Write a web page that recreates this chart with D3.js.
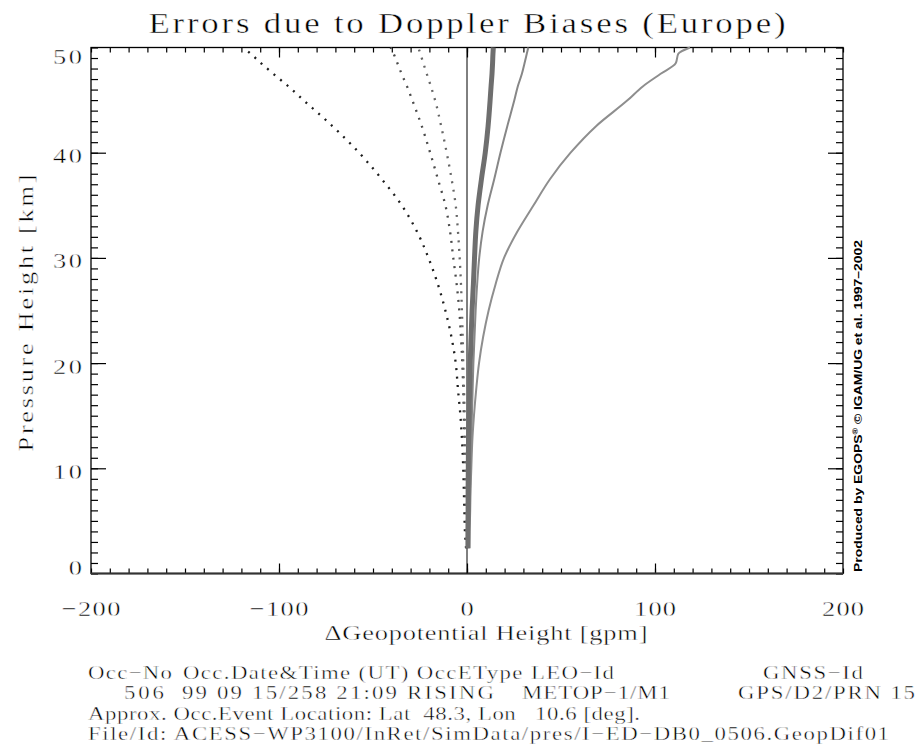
<!DOCTYPE html>
<html>
<head>
<meta charset="utf-8">
<script src="https://cdn.jsdelivr.net/npm/d3@7"></script>
<style>
body{margin:0;background:#fff}
text{font-family:"Liberation Serif",serif;fill:#000}
</style>
</head>
<body>
<script>
var width=920,
	height=756;

// heights in km, shared by every profile
var heights=[2.4,4,6,8,10,12.5,15,17.5,20,22.5,25,27.5,30,32.5,35,37.5,40,42.5,45,46.3,47.5,48.5,49.4,50]

// geopotential height differences [gpm]
var dotsBlack=[-0.5,-1.1,-1.4,-1.7,-2.0,-2.6,-3.5,-4.8,-6.0,-8.3,-11.5,-15.5,-20.5,-26.6,-34.7,-45.4,-57.4,-71.4,-87.0,-95.0,-103.0,-109.5,-115.0,-119.0]
var dotsDark=[-0.2,-0.4,-0.6,-0.8,-1.1,-1.4,-1.7,-2.0,-2.5,-3.2,-4.1,-5.5,-7.3,-9.0,-11.5,-15.5,-19.6,-24.0,-29.1,-31.9,-34.8,-37.0,-39.0,-40.6]
var dotsGrey=[0,-0.1,-0.2,-0.35,-0.5,-0.8,-1.2,-1.6,-2.0,-2.3,-2.7,-3.2,-3.9,-4.8,-6.0,-8.2,-10.8,-13.7,-17.0,-19.2,-21.4,-23.2,-24.8,-25.9]
var meanBias=[0.5,0.5,0.6,0.6,0.7,0.8,1.1,1.4,1.7,2.2,2.7,3.4,4.0,4.7,5.9,7.7,9.7,11.2,12.3,12.8,13.3,13.6,13.8,14.0]
var posSmall=[0.7,1.0,1.4,1.7,2.0,2.3,2.6,3.0,3.4,4.0,4.6,5.4,6.5,8.3,11.0,14.5,17.8,21.4,25.2,27.0,29.2,30.6,31.8,32.6]
var posLarge=[1.2,1.4,1.7,1.9,2.3,2.8,3.7,4.9,6.4,8.6,11.5,15.2,19.7,26.8,35.4,44.2,55.1,68.5,85.5,93.5,103.0,111.0,112.4,118.6]

var xTicks=[-200,-100,0,100,200],
	yTicks=[0,10,20,30,40,50]

var title="Errors due to Doppler Biases (Europe)",
	xTitle="\u0394Geopotential Height [gpm]",
	yTitle="Pressure Height [km]",
	credit="Produced by EGOPS",
	creditRest=" \u00a9 IGAM/UG et al. 1997\u20132002"

var footer1=["Occ\u2212No","Occ.Date&Time (UT) OccEType LEO\u2212Id","GNSS\u2212Id"],
	footer2=["506","99 09 15/258 21:09 RISING","METOP\u22121/M1","GPS/D2/PRN 15"],
	footer3=["Approx. Occ.Event Location: Lat\u00a0\u00a048.3, Lon\u00a0\u00a0\u00a010.6 [deg]."],
	footer4=["File/Id: ACESS\u2212WP3100/InRet/SimData/pres/I\u2212ED\u2212DB0_0506.GeopDif01"]

var svg,
	glyphScale=1.2

// the plot font is wider and thinner than Times: widen glyphs a little, spread the rest
// with textLength, and shave the strokes with a thin white outline
function label(str,x0,y0,size,target,anchor,rot){
	var t=svg.append("text").style("font-size",size+"px")
		.style("stroke","#fff").style("stroke-width","0.45px")
		.attr("text-anchor",anchor||"start").text(str)
	t.attr("textLength",target/glyphScale).attr("lengthAdjust","spacing")
		.attr("transform","translate("+x0+","+y0+")"+(rot?" rotate("+rot+")":"")+" scale("+glyphScale+",1)")
	return t
}

function init() {
	svg=d3.select("body").append("svg").attr("width",width).attr("height",height)

	var x=d3.scaleLinear().domain([-200,200]).range([91,843]),
		y=d3.scaleLinear().domain([0,50]).range([573.5,47.5])

	// inward ticks on all four sides
	function ticks(axis,tr,vals,size){
		svg.append("g").attr("transform",tr)
			.call(axis.tickValues(vals).tickSize(size).tickSizeOuter(0).tickFormat(""))
			.call(g=>g.select(".domain").remove())
			.selectAll("line").attr("stroke","#000").attr("stroke-width",1.2)
	}
	var minorX=d3.range(-200,201,10), minorY=d3.range(0,51,1)
	ticks(d3.axisBottom(x),"translate(0,573.5)",minorX,-5)
	ticks(d3.axisBottom(x),"translate(0,573.5)",[-100,0,100],-10)
	ticks(d3.axisTop(x),"translate(0,47.5)",minorX,-5)
	ticks(d3.axisTop(x),"translate(0,47.5)",[-100,0,100],-10)
	ticks(d3.axisLeft(y),"translate(91,0)",minorY,-7)
	ticks(d3.axisLeft(y),"translate(91,0)",[10,20,30,40],-15)
	ticks(d3.axisRight(y),"translate(843,0)",minorY,-7)
	ticks(d3.axisRight(y),"translate(843,0)",[10,20,30,40],-15)

	svg.append("rect").attr("x",91).attr("y",47.5).attr("width",752).attr("height",526)
		.attr("fill","none").attr("stroke","#000").attr("stroke-width",1.3)
	svg.append("line").attr("x1",91).attr("x2",843).attr("y1",573.5).attr("y2",573.5)
		.attr("stroke","#333").attr("stroke-width",2)

	// zero line
	svg.append("line").attr("x1",x(0)).attr("x2",x(0)).attr("y1",y(0)).attr("y2",y(50))
		.attr("stroke","#000").attr("stroke-width",1)

	var line=d3.line()
		.x(d=>x(d))
		.y((d,i)=>y(heights[i]))
		.curve(d3.curveMonotoneY)

	var profiles=[
		{v:dotsBlack,color:"#1c1c1c",w:2.3,dash:"2,6.5"},
		{v:dotsDark,color:"#4a4a4a",w:2.3,dash:"2,6.5"},
		{v:dotsGrey,color:"#666",w:2.3,dash:"2,6.5"},
		{v:posLarge,color:"#8e8e8e",w:2,dash:null},
		{v:posSmall,color:"#878787",w:2,dash:null},
		{v:meanBias,color:"#6e6e6e",w:5,dash:null}
	]
	svg.selectAll("path.profile").data(profiles).enter().append("path").attr("class","profile")
		.attr("d",d=>line(d.v))
		.attr("fill","none")
		.attr("stroke",d=>d.color)
		.attr("stroke-width",d=>d.w)
		.attr("stroke-dasharray",d=>d.dash)

	// tick labels
	xTicks.forEach(d=>{
		label(d<0?"\u2212"+Math.abs(d):String(d),x(d),616,22,String(Math.abs(d)).length*14+(d<0?17:0),"middle")
	})
	yTicks.forEach(d=>{
		label(String(d),82,Math.min(574.5,Math.max(64,y(d)+10.5)),22,String(d).length*14.5,"end")
	})

	label(title,467,33,29,637,"middle")
	label(xTitle,486,640,22,323,"middle")
	label(yTitle,33,313,22,277,"middle",-90)

	var cr=svg.append("text").attr("transform","translate(862,572) rotate(-90)")
		.style("font-family","'Liberation Sans',sans-serif").style("font-weight","bold").style("font-size","11px")
		.attr("textLength",332).attr("lengthAdjust","spacingAndGlyphs")
	cr.append("tspan").text(credit)
	cr.append("tspan").attr("dy",-4).style("font-size","7px").text("\u00ae")
	cr.append("tspan").attr("dy",4).text(creditRest)

	// footer block
	var rows=[
		{t:footer1,y:679,x:[88,183,763],len:[84,431,100]},
		{t:footer2,y:699,x:[124,182,522,738],len:[40,312,148,177]},
		{t:footer3,y:720,x:[88],len:[552]},
		{t:footer4,y:740,x:[88],len:[801]}
	]
	rows.forEach(r=>{
		r.t.forEach((s,i)=>label(s,r.x[i],r.y,19,r.len[i]))
	})
}

init()
</script>
</body>
</html>
